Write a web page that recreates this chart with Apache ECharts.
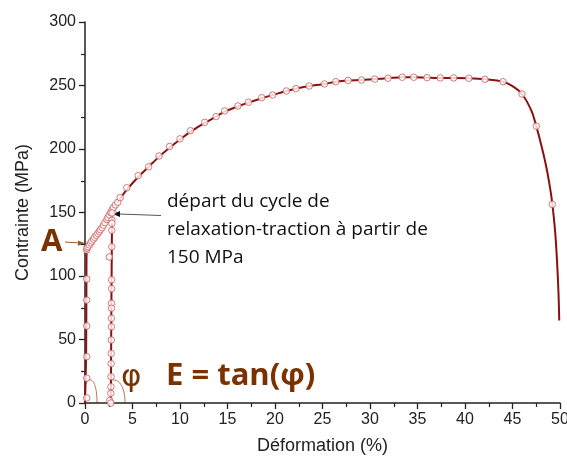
<!DOCTYPE html>
<html><head><meta charset="utf-8">
<script src="https://cdn.jsdelivr.net/npm/echarts@6/dist/echarts.min.js"></script>
<style>html,body{margin:0;padding:0;background:#fff}#c{width:567px;height:462px}</style>
</head><body><div id="c"></div>
<script>
// Main tensile curve (strain %, stress MPa)
const curveLine = [[0,0],[0.12,40],[0.15,100],[0.18,122],[0.7,128],[1.2,133.6],[1.75,139],[2.3,146],[2.7,150.5],[3.2,156],[3.7,161],[4.4,168],[5.6,178],[6.7,186],[7.8,194],[8.9,201],[10,207.5],[11.1,213.5],[12.6,220.5],[13.8,225.5],[14.7,229.5],[16.1,233.5],[17.2,236.5],[18.6,240],[19.75,242.5],[21.2,245.7],[22.2,247.5],[23.6,249.6],[25.2,251.2],[26.4,253],[27.7,254],[29.1,254.3],[30.5,255.1],[31.9,255.7],[33.4,256.5],[34.6,256.5],[36,256.2],[37.4,256],[38.8,256],[40.4,255.7],[42.1,254.9],[44,253],[45,249.5],[46,243.3],[47,230],[47.5,218],[48,204],[48.5,188],[48.9,172],[49.2,156.4],[49.5,134],[49.7,110],[49.85,85],[49.92,65]];
// Relaxation-traction cycle line
const cycleLine = [[2.85,150],[2.82,120],[2.78,80],[2.75,40],[2.72,0]];
// Marker points on the main curve
const curveMarks = [[0.18,4],[0.18,19.6],[0.18,36.5],[0.18,60.6],[0.18,81],[0.18,97.6],[0.18,120.5],[0.2,122],[0.32,123],[0.45,124.5],[0.6,126],[0.72,127.5],[0.9,129],[1.02,130.5],[1.2,132],[1.35,133.5],[1.5,135],[1.62,136.5],[1.8,138],[1.95,140],[2.1,142],[2.3,144.5],[2.4,146],[2.55,148],[2.7,150],[2.85,152],[3.0,154],[3.2,156],[3.45,158],[3.7,161.7],[4.4,169.5],[5.6,179],[6.7,186],[7.8,194.5],[8.9,202],[10,208],[11.1,214.4],[12.6,221],[13.8,225.5],[14.7,230],[16.1,233.9],[17.2,236.8],[18.6,240.4],[19.75,242.5],[21.2,245.7],[22.2,247.5],[23.6,249.6],[25.2,251.2],[26.4,253],[27.7,254],[29.1,254.3],[30.5,255.1],[31.9,255.7],[33.4,256.5],[34.6,256.5],[36,256.2],[37.4,256],[38.8,256],[40.4,255.7],[42.1,254.9],[44,253],[46,243.3],[47.5,218],[49.2,156.4]];
// Marker points on the cycle
const cycleMarks = [[2.85,149.6],[2.84,144],[2.83,141.5],[2.82,136],[2.82,123],[2.55,115],[2.8,97],[2.8,90],[2.79,78.5],[2.79,74.6],[2.78,66.7],[2.78,60],[2.77,49.6],[2.76,39],[2.75,31],[2.74,20.7],[2.73,12.8],[2.72,7.6],[2.6,2],[2.72,0]];
const xTicks = [0,5,10,15,20,25,30,35,40,45,50];
const yTicks = [0,50,100,150,200,250,300];

const chart = echarts.init(document.getElementById('c'), null, {renderer:'canvas'});
const brown = '#7a3200';
const axisFont = {fontFamily:'Liberation Sans, Arial', fontSize:16, color:'#222'};
const nameFont = {fontFamily:'Liberation Sans, Arial', fontSize:18, color:'#222'};
const markStyle = {color:'#fff', borderColor:'#c85a5a', borderWidth:1};
chart.setOption({
  animation:false,
  grid:{left:85, right:7, top:22, bottom:59, containLabel:false, outerBoundsMode:'none'},
  xAxis:{type:'value', min:xTicks[0], max:xTicks[xTicks.length-1], interval:5,
    name:'Déformation (%)', nameLocation:'middle', nameGap:34, nameTextStyle:nameFont,
    axisLine:{lineStyle:{color:'#222', width:1.5}},
    axisTick:{inside:false, length:6, lineStyle:{color:'#222', width:1.3}},
    minorTick:{show:true, splitNumber:2, length:4, lineStyle:{color:'#222', width:1.2}},
    axisLabel:Object.assign({margin:9}, axisFont), splitLine:{show:false}},
  yAxis:{type:'value', min:yTicks[0], max:yTicks[yTicks.length-1], interval:50,
    name:'Contrainte (MPa)', nameLocation:'middle', nameGap:53, nameTextStyle:nameFont,
    axisLine:{show:true, lineStyle:{color:'#222', width:1.5}},
    axisTick:{show:true, inside:false, length:6, lineStyle:{color:'#222', width:1.3}},
    minorTick:{show:true, splitNumber:2, length:4, lineStyle:{color:'#222', width:1.2}},
    axisLabel:Object.assign({margin:9}, axisFont), splitLine:{show:false}},
  series:[
    {type:'line', data:curveLine, showSymbol:false, smooth:0.3, lineStyle:{color:'#8b1010', width:2}, z:2},
    {type:'line', data:cycleLine, showSymbol:false, lineStyle:{color:'#8b1010', width:2}, z:2},
    {type:'scatter', data:curveMarks, symbol:'circle', symbolSize:6.5, itemStyle:markStyle, z:3},
    {type:'scatter', data:cycleMarks, symbol:'circle', symbolSize:6.5, itemStyle:markStyle, z:3}
  ],
  graphic:[
    {type:'text', left:41, top:227, style:{text:'A', font:'bold 31px "Open Sans", Lato', fill:brown}},
    {type:'line', shape:{x1:65, y1:242, x2:80, y2:243}, style:{stroke:'#9a5a30', lineWidth:1}},
    {type:'polygon', shape:{points:[[85,243.3],[78,240.5],[78,245.8]]}, style:{fill:'#9a5a30'}},
    {type:'line', shape:{x1:161, y1:215.5, x2:119, y2:214}, style:{stroke:'#555', lineWidth:1}},
    {type:'polygon', shape:{points:[[113,214],[120,211],[120,217]]}, style:{fill:'#111'}},
    {type:'text', left:167, top:188, style:{text:'départ du cycle de\nrelaxation-traction à partir de\n150 MPa', font:'19px "Open Sans", Lato', fill:'#111', lineHeight:28}},
    {type:'bezierCurve', shape:{x1:86, y1:384, cpx1:88, cpy1:377, cpx2:97, cpy2:376, x2:97, y2:403}, style:{stroke:'#b07850', lineWidth:1, fill:null}},
    {type:'bezierCurve', shape:{x1:112, y1:380, cpx1:120, cpy1:379, cpx2:125, cpy2:388, x2:125, y2:403}, style:{stroke:'#b07850', lineWidth:1, fill:null}},
    {type:'text', left:121, top:362, style:{text:'φ', font:'31px "DejaVu Sans", Lato', fill:brown}},
    {type:'text', left:166, top:361, style:{text:'E = tan(φ)', font:'bold 31px "Open Sans", Lato', fill:brown}}
  ]
});
</script></body></html>
